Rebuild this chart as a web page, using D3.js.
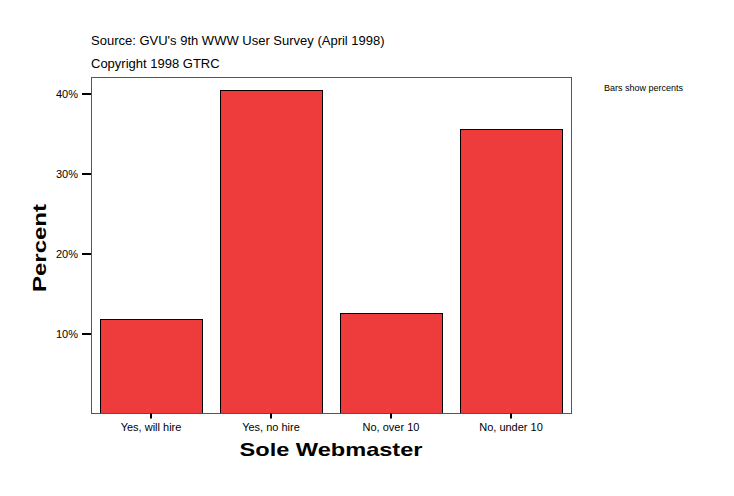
<!DOCTYPE html>
<html>
<head>
<meta charset="utf-8">
<script src="https://cdn.jsdelivr.net/npm/d3@7"></script>
<style>
  body { margin: 0; background: #fff; }
  text { font-family: "Liberation Sans", Arial, sans-serif; }
</style>
</head>
<body>
<script>
// Sole Webmaster bar chart (GVU survey)

var categories = ['Yes, will hire', 'Yes, no hire', 'No, over 10', 'No, under 10'];
var percents = [11.75, 40.4, 12.5, 35.5];
var yTicks = [10, 20, 30, 40];

var svgWidth = 734;
var svgHeight = 496;

var plot = { left: 91, top: 77, right: 571, bottom: 413 };

var svg = d3.select('body').append('svg')
  .attr('width', svgWidth)
  .attr('height', svgHeight);

var xScale = d3.scaleBand()
  .domain(categories)
  .range([plot.left, plot.right])
  .paddingInner(0.15)
  .paddingOuter(0.075);

var yScale = d3.scaleLinear()
  .domain([0, 42])
  .range([plot.bottom, plot.bottom - 42 * 8]);

// Titles
svg.append('text')
  .attr('x', 91)
  .attr('y', 45)
  .attr('font-size', 13)
  .text("Source: GVU's 9th WWW User Survey (April 1998)");

svg.append('text')
  .attr('x', 91)
  .attr('y', 68)
  .attr('font-size', 13)
  .text('Copyright 1998 GTRC');

svg.append('text')
  .attr('x', 604)
  .attr('y', 91)
  .attr('font-size', 9)
  .text('Bars show percents');

// Bars
svg.selectAll('rect.bar')
  .data(percents)
  .enter()
  .append('rect')
  .attr('class', 'bar')
  .attr('x', function(d, i) { return Math.round(xScale(categories[i])) + 0.5; })
  .attr('y', function(d) { return Math.round(yScale(d)) + 0.5; })
  .attr('width', Math.round(xScale.bandwidth()))
  .attr('height', function(d) { return Math.round(yScale(0)) - Math.round(yScale(d)); })
  .attr('fill', '#ee3b3b')
  .attr('stroke', '#000')
  .attr('stroke-width', 1);

// Frame
svg.append('rect')
  .attr('x', plot.left + 0.5)
  .attr('y', plot.top + 0.5)
  .attr('width', plot.right - plot.left)
  .attr('height', plot.bottom - plot.top)
  .attr('fill', 'none')
  .attr('stroke', '#555')
  .attr('stroke-width', 1);

// Y axis
var leftAxis = d3.axisLeft(yScale)
  .tickValues(yTicks)
  .tickSize(9)
  .tickPadding(4)
  .tickFormat(function(d) { return d + '%'; });

var yAxis = svg.append('g')
  .attr('transform', 'translate(' + plot.left + ',0.5)')
  .call(leftAxis);
yAxis.select('.domain').remove();
yAxis.selectAll('line').attr('stroke', '#000').attr('stroke-width', 2);
yAxis.selectAll('text')
  .attr('font-size', 11)
  .attr('font-family', '"Liberation Sans", Arial, sans-serif')
  .attr('fill', '#000');

// X axis
var bottomAxis = d3.axisBottom(xScale)
  .tickSize(5)
  .tickPadding(5);

var xAxis = svg.append('g')
  .attr('transform', 'translate(0,' + (plot.bottom + 0.5) + ')')
  .call(bottomAxis);
xAxis.select('.domain').remove();
xAxis.selectAll('line').attr('stroke', '#000').attr('stroke-width', 2);
xAxis.selectAll('text')
  .attr('font-size', 11)
  .attr('font-family', '"Liberation Sans", Arial, sans-serif')
  .attr('fill', '#000');

// Axis labels
svg.append('text')
  .attr('x', 331)
  .attr('y', 456)
  .attr('text-anchor', 'middle')
  .attr('font-size', 19)
  .attr('font-weight', 'bold')
  .attr('font-family', '"DejaVu Sans", sans-serif')
  .attr('textLength', 183)
  .attr('lengthAdjust', 'spacingAndGlyphs')
  .text('Sole Webmaster');

svg.append('text')
  .attr('transform', 'translate(46,248) rotate(-90)')
  .attr('text-anchor', 'middle')
  .attr('font-size', 19)
  .attr('font-weight', 'bold')
  .attr('font-family', '"DejaVu Sans", sans-serif')
  .attr('textLength', 88)
  .attr('lengthAdjust', 'spacingAndGlyphs')
  .text('Percent');
</script>
</body>
</html>
